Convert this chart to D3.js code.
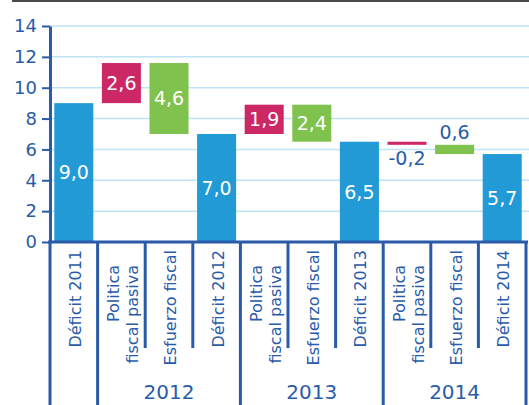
<!DOCTYPE html>
<html>
<head>
<meta charset="utf-8">
<script src="https://cdn.jsdelivr.net/npm/d3@7"></script>
<style>
  body { margin: 0; background: #fff; }
  svg { display: block; font-family: "DejaVu Sans", sans-serif; }
</style>
</head>
<body>
<svg id="chart"></svg>
<script>
// data
var categories = ["Déficit 2011", "Politica|fiscal pasiva", "Esfuerzo fiscal", "Déficit 2012",
                  "Politica|fiscal pasiva", "Esfuerzo fiscal", "Déficit 2013",
                  "Politica|fiscal pasiva", "Esfuerzo fiscal", "Déficit 2014"];
var kinds      = ["deficit", "pasiva", "esfuerzo", "deficit", "pasiva", "esfuerzo", "deficit", "pasiva", "esfuerzo", "deficit"];
var lows       = [0, 9.0, 7.0, 0, 7.0, 6.5, 0, 6.3, 5.7, 0];
var highs      = [9.0, 11.6, 11.6, 7.0, 8.9, 8.9, 6.5, 6.5, 6.3, 5.7];
var valueLabels = ["9,0", "2,6", "4,6", "7,0", "1,9", "2,4", "6,5", "-0,2", "0,6", "5,7"];
var groupNames = ["", "2012", "2013", "2014"];
var groupSizes = [1, 3, 3, 3];
var yTicks = [0, 2, 4, 6, 8, 10, 12, 14];

var W = 529, H = 405;
var axisBlue = "#2a5ba8";
var colors = { deficit: "#229ad6", pasiva: "#cc2866", esfuerzo: "#7fc24e" };

var svg = d3.select("#chart").attr("width", W).attr("height", H);

var x = d3.scaleBand()
  .domain(d3.range(categories.length))
  .range([50, 526])
  .paddingInner(0.18)
  .paddingOuter(0.09);
var step = x.step();

var y = d3.scaleLinear().domain([0, 14]).range([242, 26]);

// top rule
svg.append("line")
  .attr("x1", 12).attr("x2", W)
  .attr("y1", 1).attr("y2", 1)
  .attr("stroke", "#4a4a4a")
  .attr("stroke-width", 2);

// gridlines
svg.append("g")
  .selectAll("line")
  .data(yTicks.slice(1))
  .enter()
  .append("line")
  .attr("x1", 50).attr("x2", W)
  .attr("y1", function(d) { return y(d); })
  .attr("y2", function(d) { return y(d); })
  .attr("stroke", "#bfe3f2")
  .attr("stroke-width", 1.5);

// bars
svg.append("g")
  .selectAll("rect")
  .data(categories)
  .enter()
  .append("rect")
  .attr("x", function(d, i) { return x(i); })
  .attr("width", x.bandwidth())
  .attr("y", function(d, i) { return y(highs[i]); })
  .attr("height", function(d, i) { return y(lows[i]) - y(highs[i]); })
  .attr("fill", function(d, i) { return colors[kinds[i]]; });

// value labels
svg.append("g")
  .selectAll("text")
  .data(valueLabels)
  .enter()
  .append("text")
  .attr("x", function(d, i) { return x(i) + x.bandwidth() / 2; })
  .attr("y", function(d, i) {
    var small = highs[i] - lows[i] < 1;
    if (!small) return (y(highs[i]) + y(lows[i])) / 2;
    return d.charAt(0) === "-" ? y(lows[i]) + 13 : y(highs[i]) - 13;
  })
  .attr("dy", "0.36em")
  .attr("text-anchor", "middle")
  .attr("font-size", 19)
  .attr("fill", function(d, i) { return highs[i] - lows[i] < 1 ? axisBlue : "#fff"; })
  .text(function(d) { return d; });

// y axis
var yAxis = svg.append("g")
  .attr("transform", "translate(50,0)")
  .call(d3.axisLeft(y).tickValues(yTicks).tickSize(8).tickSizeOuter(0).tickPadding(5));
yAxis.select(".domain").attr("stroke", axisBlue).attr("stroke-width", 3);
yAxis.selectAll(".tick line").attr("stroke", axisBlue).attr("stroke-width", 2);
yAxis.selectAll(".tick text")
  .attr("fill", axisBlue)
  .attr("font-size", 18)
  .attr("font-family", "DejaVu Sans, sans-serif");

// category separators
var x0 = x.range()[0];
var groupEdges = [0];
groupSizes.forEach(function(s, i) { groupEdges.push(groupEdges[i] + s); });

svg.append("g")
  .selectAll("line")
  .data(d3.range(categories.length + 1))
  .enter()
  .append("line")
  .attr("x1", function(i) { return x0 + i * step; })
  .attr("x2", function(i) { return x0 + i * step; })
  .attr("y1", 242)
  .attr("y2", function(i) { return groupEdges.indexOf(i) >= 0 ? H : 348; })
  .attr("stroke", axisBlue)
  .attr("stroke-width", 3);

// baseline
svg.append("line")
  .attr("x1", 48).attr("x2", 528)
  .attr("y1", y(0)).attr("y2", y(0))
  .attr("stroke", axisBlue)
  .attr("stroke-width", 3);

// rotated category labels
categories.forEach(function(c, i) {
  var lines = c.split("|");
  var cx = x(i) + x.bandwidth() / 2;
  var top = lines.length > 1 ? 265 : 250;
  lines.forEach(function(t, j) {
    var bx = cx + 7 + (j - (lines.length - 1) / 2) * 19;
    svg.append("text")
      .attr("transform", "translate(" + bx + "," + top + ") rotate(-90)")
      .attr("text-anchor", "end")
      .attr("font-size", 16)
      .attr("fill", axisBlue)
      .text(t);
  });
});

// group labels
groupNames.forEach(function(g, i) {
  if (!g) return;
  var gx = x0 + (groupEdges[i] + groupEdges[i + 1]) / 2 * step;
  svg.append("text")
    .attr("x", gx)
    .attr("y", 399)
    .attr("text-anchor", "middle")
    .attr("font-size", 20)
    .attr("fill", axisBlue)
    .text(g);
});
</script>
</body>
</html>
